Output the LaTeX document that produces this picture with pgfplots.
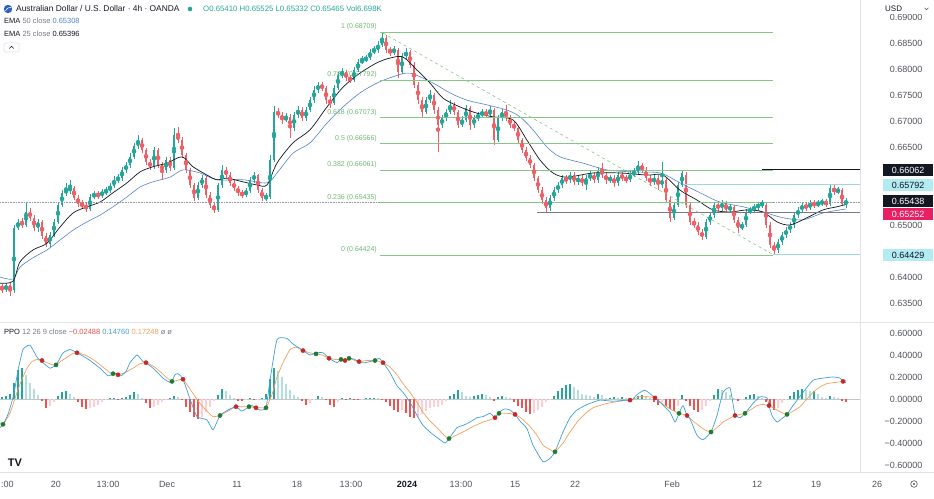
\documentclass[border=0pt]{standalone}
\usepackage{fontspec}
\setmainfont{Liberation Sans}
\usepackage{pgfplots}
\pgfplotsset{compat=1.18}
\usepackage{pgfplotstable}

\definecolor{tvup}{HTML}{26A69A}
\definecolor{tvdn}{HTML}{EC6068}
\definecolor{ema50}{HTML}{5283C8}
\definecolor{fib}{HTML}{86C788}
\definecolor{fibtxt}{HTML}{6DB86F}
\definecolor{ppo}{HTML}{3E9FD9}
\definecolor{sig}{HTML}{F2A05C}
\definecolor{hdt}{HTML}{26A69A}
\definecolor{hlt}{HTML}{B2DFDB}
\definecolor{hdr}{HTML}{EF5350}
\definecolor{hlr}{HTML}{FFCDD2}
\definecolor{dotg}{HTML}{1E7B2C}
\definecolor{dotr}{HTML}{C62828}
\definecolor{tvtext}{HTML}{50535E}
\definecolor{tvdark}{HTML}{131722}
\definecolor{tvsub}{HTML}{787B86}
\definecolor{tvsep}{HTML}{E0E3EB}
\definecolor{tvcyan}{HTML}{B2EBF2}
\definecolor{tvcyanl}{HTML}{9ED6E2}
\definecolor{tvmag}{HTML}{E91E63}
\definecolor{tvgrey}{HTML}{9598A1}
\definecolor{tvglobe}{HTML}{2E5FC2}

\newcommand{\tvf}{\fontsize{9}{10}\selectfont}
\newcommand{\tvs}{\fontsize{7.5}{9}\selectfont}

% AUD/USD 4h candles, x = position along the time scale
\pgfplotstableread{
x o h l c
2 0.6383 0.6387 0.6369 0.6375
6 0.6375 0.6388 0.6371 0.6385
10 0.6385 0.6388 0.6364 0.6373
14 0.6375 0.6500 0.6369 0.6494
18 0.6494 0.6512 0.6490 0.6506
22 0.6506 0.6514 0.6494 0.6500
26 0.6500 0.6542 0.6496 0.6525
30 0.6525 0.6533 0.6508 0.6514
34 0.6514 0.6519 0.6489 0.6494
38 0.6494 0.6512 0.6487 0.6506
42 0.6506 0.6510 0.6473 0.6479
46 0.6479 0.6485 0.6458 0.6464
50 0.6464 0.6487 0.6458 0.6481
54 0.6481 0.6512 0.6477 0.6506
58 0.6506 0.6544 0.6502 0.6538
62 0.6538 0.6567 0.6535 0.6562
66 0.6562 0.6581 0.6556 0.6567
70 0.6567 0.6587 0.6560 0.6571
74 0.6571 0.6575 0.6548 0.6552
78 0.6552 0.6558 0.6535 0.6540
82 0.6540 0.6548 0.6531 0.6538
86 0.6538 0.6544 0.6525 0.6531
90 0.6531 0.6560 0.6527 0.6554
94 0.6554 0.6565 0.6550 0.6560
98 0.6560 0.6565 0.6550 0.6556
102 0.6556 0.6569 0.6552 0.6564
106 0.6564 0.6573 0.6558 0.6565
110 0.6565 0.6581 0.6562 0.6575
114 0.6575 0.6594 0.6571 0.6587
118 0.6587 0.6598 0.6581 0.6590
122 0.6590 0.6612 0.6585 0.6606
126 0.6606 0.6621 0.6600 0.6615
130 0.6615 0.6638 0.6610 0.6631
134 0.6631 0.6658 0.6627 0.6652
138 0.6652 0.6673 0.6646 0.6663
142 0.6663 0.6667 0.6638 0.6644
146 0.6644 0.6648 0.6615 0.6621
150 0.6621 0.6627 0.6606 0.6612
154 0.6612 0.6650 0.6608 0.6644
158 0.6644 0.6648 0.6610 0.6615
162 0.6615 0.6621 0.6587 0.6606
166 0.6606 0.6631 0.6600 0.6625
170 0.6625 0.6631 0.6604 0.6610
174 0.6610 0.6687 0.6606 0.6673
178 0.6673 0.6688 0.6658 0.6663
182 0.6663 0.6669 0.6629 0.6635
186 0.6635 0.6638 0.6600 0.6606
190 0.6606 0.6610 0.6571 0.6577
194 0.6577 0.6581 0.6546 0.6552
198 0.6552 0.6583 0.6548 0.6577
202 0.6577 0.6596 0.6571 0.6590
206 0.6590 0.6594 0.6552 0.6558
210 0.6558 0.6564 0.6533 0.6538
214 0.6538 0.6542 0.6523 0.6529
218 0.6529 0.6581 0.6525 0.6577
222 0.6577 0.6615 0.6571 0.6606
226 0.6606 0.6612 0.6590 0.6596
230 0.6596 0.6602 0.6575 0.6581
234 0.6581 0.6587 0.6565 0.6571
238 0.6571 0.6575 0.6556 0.6562
242 0.6562 0.6567 0.6552 0.6558
246 0.6558 0.6571 0.6554 0.6565
250 0.6565 0.6592 0.6562 0.6587
254 0.6587 0.6602 0.6581 0.6596
258 0.6596 0.6598 0.6562 0.6567
262 0.6567 0.6571 0.6546 0.6552
266 0.6552 0.6562 0.6546 0.6554
270 0.6554 0.6635 0.6550 0.6625
274 0.6625 0.6729 0.6621 0.6717
278 0.6717 0.6725 0.6706 0.6712
282 0.6712 0.6717 0.6694 0.6702
286 0.6702 0.6715 0.6698 0.6708
290 0.6708 0.6713 0.6667 0.6687
294 0.6687 0.6717 0.6681 0.6712
298 0.6712 0.6729 0.6706 0.6721
302 0.6721 0.6727 0.6700 0.6706
306 0.6706 0.6727 0.6700 0.6721
310 0.6721 0.6746 0.6717 0.6740
314 0.6740 0.6767 0.6735 0.6760
318 0.6760 0.6775 0.6754 0.6769
322 0.6769 0.6775 0.6758 0.6763
326 0.6763 0.6767 0.6733 0.6740
330 0.6740 0.6748 0.6725 0.6735
334 0.6735 0.6769 0.6731 0.6763
338 0.6763 0.6794 0.6760 0.6788
342 0.6788 0.6802 0.6783 0.6794
346 0.6794 0.6798 0.6777 0.6783
350 0.6783 0.6788 0.6773 0.6779
354 0.6779 0.6804 0.6775 0.6798
358 0.6798 0.6819 0.6794 0.6813
362 0.6813 0.6825 0.6810 0.6817
366 0.6817 0.6827 0.6813 0.6821
370 0.6821 0.6838 0.6817 0.6833
374 0.6833 0.6844 0.6829 0.6837
378 0.6837 0.6854 0.6831 0.6846
382 0.6846 0.6871 0.6842 0.6860
386 0.6860 0.6865 0.6831 0.6837
390 0.6837 0.6842 0.6825 0.6833
394 0.6833 0.6844 0.6827 0.6837
398 0.6837 0.6840 0.6783 0.6794
402 0.6794 0.6831 0.6790 0.6825
406 0.6825 0.6840 0.6817 0.6833
410 0.6833 0.6837 0.6802 0.6808
414 0.6808 0.6813 0.6763 0.6769
418 0.6769 0.6775 0.6733 0.6740
422 0.6740 0.6746 0.6706 0.6717
426 0.6717 0.6746 0.6713 0.6740
430 0.6740 0.6760 0.6735 0.6750
434 0.6750 0.6754 0.6713 0.6721
438 0.6721 0.6727 0.6640 0.6692
442 0.6692 0.6712 0.6687 0.6706
446 0.6706 0.6723 0.6700 0.6717
450 0.6717 0.6740 0.6713 0.6731
454 0.6731 0.6737 0.6712 0.6717
458 0.6717 0.6721 0.6687 0.6692
462 0.6692 0.6710 0.6688 0.6702
466 0.6702 0.6731 0.6698 0.6725
470 0.6725 0.6729 0.6683 0.6692
474 0.6692 0.6712 0.6687 0.6706
478 0.6706 0.6717 0.6700 0.6712
482 0.6712 0.6723 0.6706 0.6717
486 0.6717 0.6723 0.6706 0.6712
490 0.6712 0.6729 0.6708 0.6721
494 0.6721 0.6725 0.6654 0.6663
498 0.6663 0.6712 0.6660 0.6706
502 0.6706 0.6723 0.6700 0.6717
506 0.6717 0.6731 0.6700 0.6706
510 0.6706 0.6712 0.6687 0.6692
514 0.6692 0.6700 0.6681 0.6687
518 0.6687 0.6690 0.6658 0.6663
522 0.6663 0.6667 0.6638 0.6644
526 0.6644 0.6650 0.6623 0.6629
530 0.6629 0.6635 0.6610 0.6615
534 0.6615 0.6619 0.6585 0.6590
538 0.6590 0.6594 0.6562 0.6567
542 0.6567 0.6573 0.6540 0.6548
546 0.6548 0.6554 0.6525 0.6533
550 0.6533 0.6558 0.6527 0.6552
554 0.6552 0.6573 0.6546 0.6567
558 0.6567 0.6583 0.6562 0.6577
562 0.6577 0.6596 0.6571 0.6590
566 0.6590 0.6596 0.6579 0.6587
570 0.6587 0.6602 0.6581 0.6596
574 0.6596 0.6602 0.6577 0.6583
578 0.6583 0.6596 0.6577 0.6590
582 0.6590 0.6596 0.6575 0.6581
586 0.6581 0.6596 0.6567 0.6590
590 0.6590 0.6604 0.6585 0.6596
594 0.6596 0.6602 0.6581 0.6587
598 0.6587 0.6612 0.6581 0.6606
602 0.6606 0.6619 0.6590 0.6596
606 0.6596 0.6602 0.6579 0.6587
610 0.6587 0.6596 0.6581 0.6590
614 0.6590 0.6596 0.6573 0.6581
618 0.6581 0.6602 0.6575 0.6596
622 0.6596 0.6602 0.6585 0.6590
626 0.6590 0.6596 0.6581 0.6587
630 0.6587 0.6604 0.6583 0.6596
634 0.6596 0.6610 0.6592 0.6602
638 0.6602 0.6623 0.6596 0.6615
642 0.6615 0.6619 0.6600 0.6606
646 0.6606 0.6612 0.6585 0.6590
650 0.6590 0.6596 0.6575 0.6583
654 0.6583 0.6596 0.6577 0.6590
658 0.6590 0.6596 0.6567 0.6577
662 0.6577 0.6621 0.6571 0.6587
666 0.6587 0.6590 0.6542 0.6548
670 0.6548 0.6554 0.6506 0.6514
674 0.6514 0.6544 0.6510 0.6538
678 0.6538 0.6583 0.6535 0.6577
682 0.6577 0.6604 0.6573 0.6600
686 0.6596 0.6602 0.6533 0.6538
690 0.6538 0.6542 0.6500 0.6506
694 0.6506 0.6514 0.6494 0.6500
698 0.6500 0.6506 0.6481 0.6487
702 0.6487 0.6492 0.6471 0.6477
706 0.6477 0.6512 0.6473 0.6506
710 0.6506 0.6525 0.6500 0.6519
714 0.6519 0.6544 0.6514 0.6538
718 0.6538 0.6544 0.6527 0.6533
722 0.6533 0.6548 0.6527 0.6542
726 0.6542 0.6546 0.6523 0.6529
730 0.6529 0.6540 0.6525 0.6535
734 0.6535 0.6538 0.6504 0.6510
738 0.6510 0.6515 0.6485 0.6494
742 0.6494 0.6506 0.6490 0.6500
746 0.6500 0.6531 0.6496 0.6525
750 0.6525 0.6535 0.6521 0.6529
754 0.6529 0.6540 0.6525 0.6535
758 0.6535 0.6544 0.6529 0.6538
762 0.6538 0.6548 0.6533 0.6542
766 0.6538 0.6542 0.6494 0.6500
770 0.6500 0.6506 0.6456 0.6462
774 0.6462 0.6467 0.6442 0.6452
778 0.6452 0.6473 0.6446 0.6467
782 0.6467 0.6487 0.6462 0.6481
786 0.6481 0.6496 0.6475 0.6490
790 0.6490 0.6506 0.6485 0.6500
794 0.6500 0.6525 0.6494 0.6519
798 0.6519 0.6535 0.6514 0.6529
802 0.6529 0.6544 0.6523 0.6538
806 0.6538 0.6544 0.6527 0.6533
810 0.6533 0.6548 0.6529 0.6542
814 0.6542 0.6548 0.6533 0.6538
818 0.6538 0.6548 0.6535 0.6542
822 0.6542 0.6550 0.6537 0.6544
826 0.6544 0.6550 0.6535 0.6540
830 0.6540 0.6579 0.6537 0.6571
834 0.6571 0.6577 0.6558 0.6564
838 0.6564 0.6573 0.6560 0.6567
842 0.6567 0.6571 0.6537 0.6540
846 0.65410 0.65525 0.65332 0.65465
}\candles

\pgfplotsset{
  tvpane/.style={anchor=north west, width=860pt, scale only axis,
    xmin=0, xmax=860, axis line style={draw=none}, tick style={draw=none},
    major tick length=0pt, xtick=\empty, yticklabel pos=right,
    scaled y ticks=false,
    yticklabel style={font=\tvf, text=tvtext, anchor=east, xshift=66pt}},
  cwick/.style={color=#1, only marks, mark=none, forget plot,
    error bars/y dir=both, error bars/y explicit, error bars/error mark=none,
    error bars/error bar style={draw=#1, line width=0.6pt}},
  cbody/.style={color=#1, only marks, mark=none, forget plot,
    error bars/y dir=both, error bars/y explicit, error bars/error mark=none,
    error bars/error bar style={draw=#1, line width=2.6pt}},
}

\begin{document}
\begin{tikzpicture}
\useasboundingbox (0pt,0pt) rectangle (934pt,498pt);

\begin{scope}[x=1pt,y=1pt]
\draw[tvsep, line width=0.8pt] (0,176) -- (934,176);
\draw[tvsep, line width=0.8pt] (0,26) -- (934,26);
\draw[tvsep, line width=0.8pt] (860,26) -- (860,498);
\end{scope}

% ---------------- price pane ----------------
\begin{axis}[tvpane, at={(0pt,486pt)}, height=310pt,
  ymin=0.631346, ymax=0.690962,
  ytick={0.635,0.64,0.65,0.665,0.67,0.675,0.68,0.685,0.69},
  yticklabels={0.63500,0.64000,0.65000,0.66500,0.67000,0.67500,0.68000,0.68500,0.69000}]

% candles: wicks then bodies, up and down separately
\addplot[restrict expr to domain={\thisrow{c}-\thisrow{o}}{0:1}, cwick=tvup]
  table[x=x, y expr={(\thisrow{h}+\thisrow{l})/2}, y error expr={(\thisrow{h}-\thisrow{l})/2}] {\candles};
\addplot[restrict expr to domain={\thisrow{c}-\thisrow{o}}{-1:-0.00001}, cwick=tvdn]
  table[x=x, y expr={(\thisrow{h}+\thisrow{l})/2}, y error expr={(\thisrow{h}-\thisrow{l})/2}] {\candles};
\addplot[restrict expr to domain={\thisrow{c}-\thisrow{o}}{0:1}, cbody=tvup]
  table[x=x, y expr={(\thisrow{o}+\thisrow{c})/2}, y error expr={abs(\thisrow{c}-\thisrow{o})/2}] {\candles};
\addplot[restrict expr to domain={\thisrow{c}-\thisrow{o}}{-1:-0.00001}, cbody=tvdn]
  table[x=x, y expr={(\thisrow{o}+\thisrow{c})/2}, y error expr={abs(\thisrow{c}-\thisrow{o})/2}] {\candles};

% EMA 50
\addplot[ema50, line width=0.6pt, smooth, tension=0.5] coordinates {
(0,0.6400) (13,0.6396) (20,0.6419) (33,0.6437) (47,0.6452) (60,0.6471) (73,0.6490)
(87,0.6506) (100,0.6519) (113,0.6535) (127,0.6554) (140,0.6573) (153,0.6583)
(170,0.6592) (183,0.6606) (200,0.6600) (217,0.6587) (243,0.6587) (267,0.6581)
(277,0.6600) (293,0.6638) (310,0.6658) (327,0.6696) (343,0.6727) (360,0.6754)
(377,0.6773) (393,0.6785) (410,0.6792) (433,0.6773) (450,0.6754) (467,0.6740)
(487,0.6731) (507,0.6721) (520,0.6708) (533,0.6683) (547,0.6650) (560,0.6631)
(583,0.6619) (607,0.6606) (633,0.6602) (660,0.6600) (680,0.6581) (700,0.6562)
(720,0.6544) (743,0.6535) (763,0.6525) (783,0.6514) (803,0.6510) (823,0.6523)
(846,0.65308)};
% EMA 25
\addplot[tvdark, line width=0.7pt, smooth, tension=0.5] coordinates {
(0,0.6388) (13,0.6392) (20,0.6429) (33,0.6452) (47,0.6465) (60,0.6496) (73,0.6523)
(87,0.6535) (100,0.6544) (113,0.6562) (127,0.6581) (140,0.6602) (153,0.6612)
(167,0.6619) (182,0.6631) (193,0.6612) (207,0.6596) (217,0.6587) (227,0.6590)
(243,0.6583) (257,0.6577) (267,0.6577) (277,0.6619) (293,0.6658) (310,0.6683)
(327,0.6727) (343,0.6765) (360,0.6792) (377,0.6812) (390,0.6821) (403,0.6823)
(417,0.6798) (430,0.6773) (443,0.6744) (460,0.6727) (477,0.6715) (493,0.6708)
(513,0.6702) (527,0.6663) (540,0.6625) (553,0.6600) (567,0.6592) (593,0.6600)
(620,0.6600) (647,0.6596) (663,0.6596) (680,0.6567) (697,0.6548) (713,0.6529)
(730,0.6525) (747,0.6529) (763,0.6525) (777,0.6506) (790,0.6500) (807,0.6514)
(823,0.6529) (837,0.6535) (846,0.65396)};

% price lines
\addplot[tvgrey, densely dotted, line width=0.6pt] coordinates {(0,0.65438) (860,0.65438)};
\addplot[tvsub, line width=0.6pt] coordinates {(537,0.65252) (860,0.65252)};
\addplot[tvcyanl, line width=0.6pt] coordinates {(683,0.65792) (860,0.65792)};
\addplot[tvcyanl, line width=0.6pt] coordinates {(773,0.64429) (860,0.64429)};
\addplot[tvdark, line width=0.6pt] coordinates {(762,0.66062) (860,0.66062)};

% Fibonacci retracement
\addplot[fib, dashed, line width=0.6pt] coordinates {(383,0.6869) (773,0.6443)};
\foreach \lv/\lab in {0.68709/1 (0.68709), 0.67792/0.786 (0.67792), 0.67073/0.618 (0.67073),
  0.66566/0.5 (0.66566), 0.66061/0.382 (0.66061), 0.65435/0.236 (0.65435), 0.64424/0 (0.64424)} {
  \edef\temp{\noexpand\addplot[fib, line width=0.6pt] coordinates {(380,\lv) (773,\lv)};}
  \temp
  \edef\temp{\noexpand\node[anchor=east, font=\noexpand\fontsize{7}{8}\noexpand\selectfont,
    text=fibtxt, inner sep=0pt, yshift=5pt] at (axis cs:377,\lv) {\lab};}
  \temp
}
\end{axis}

% ---------------- PPO pane ----------------
\begin{axis}[tvpane, at={(0pt,175pt)}, height=149pt,
  ymin=-0.663636, ymax=0.690909,
  ytick={-0.6,-0.4,-0.2,0,0.2,0.4,0.6},
  yticklabels={−0.60000,−0.40000,−0.20000,0.00000,0.20000,0.40000,0.60000}]

\addplot[tvsep!70!gray, line width=0.5pt] coordinates {(0,0) (860,0)};

% histogram
\addplot[ycomb, hdt, line width=2pt, mark=none] coordinates {
(2,0.02) (6,0.03) (10,0.05) (14,0.15) (18,0.26) (22,0.28) (58,0.03) (62,0.06) (66,0.07)
(110,0.005) (114,0.01) (122,0.01) (126,0.02) (130,0.04) (134,0.06) (170,0.01) (174,0.03)
(218,0.04) (222,0.09) (250,0.005) (262,0.005) (266,0.05) (270,0.18) (274,0.28) (318,0.03)
(342,0.005) (350,0.005) (366,0.005) (370,0.005) (374,0.01) (450,0.03) (454,0.05) (458,0.08)
(474,0.03) (478,0.04) (482,0.05) (498,0.02) (502,0.03) (554,0.03) (558,0.07) (562,0.10)
(566,0.13) (570,0.14) (598,0.05) (610,0.01) (614,0.02) (622,0.02) (634,0.01) (638,0.03)
(642,0.04) (682,0.04) (714,0.04) (718,0.09) (746,0.02) (750,0.04) (754,0.05) (790,0.03)
(794,0.06) (798,0.08) (802,0.09) (814,0.07) (830,0.03)};
\addplot[ycomb, hlt, line width=2pt, mark=none] coordinates {
(26,0.22) (30,0.15) (34,0.09) (38,0.04) (70,0.05) (74,0.02) (138,0.05) (142,0.01) (178,0.02)
(226,0.07) (230,0.04) (234,0.01) (278,0.25) (282,0.20) (286,0.14) (290,0.08) (294,0.04)
(298,0.02) (322,0.02) (378,0.005) (462,0.06) (466,0.03) (470,0.02) (486,0.04) (490,0.02)
(506,0.02) (510,0.01) (574,0.11) (578,0.08) (582,0.05) (586,0.04) (590,0.03) (594,0.02)
(602,0.04) (606,0.01) (618,0.01) (626,0.01) (646,0.03) (650,0.01) (722,0.08) (726,0.06)
(730,0.04) (734,0.01) (758,0.03) (762,0.01) (806,0.08) (810,0.07) (818,0.05) (822,0.02)
(826,0.01) (834,0.02) (838,0.01)};
\addplot[ycomb, hdr, line width=2pt, mark=none] coordinates {
(42,-0.02) (46,-0.08) (78,-0.03) (82,-0.07) (86,-0.09) (118,-0.01) (146,-0.04) (150,-0.08)
(182,-0.01) (186,-0.07) (190,-0.12) (194,-0.16) (198,-0.18) (238,-0.02) (242,-0.02)
(254,-0.005) (302,-0.02) (306,-0.05) (326,-0.01) (330,-0.05) (334,-0.07) (346,-0.005)
(354,-0.005) (358,-0.01) (382,-0.01) (386,-0.03) (390,-0.06) (394,-0.10) (398,-0.12)
(406,-0.13) (410,-0.16) (414,-0.17) (494,-0.02) (514,-0.03) (518,-0.06) (522,-0.08)
(526,-0.12) (530,-0.14) (630,-0.01) (654,-0.03) (658,-0.05) (666,-0.06) (670,-0.09)
(674,-0.11) (686,-0.02) (690,-0.06) (694,-0.10) (698,-0.12) (738,-0.02) (766,-0.03)
(770,-0.07) (774,-0.10) (842,-0.02) (846,-0.025)};
\addplot[ycomb, hlr, line width=2pt, mark=none] coordinates {
(50,-0.06) (54,-0.03) (90,-0.08) (94,-0.07) (98,-0.05) (102,-0.03) (106,-0.01) (154,-0.07)
(158,-0.05) (162,-0.03) (166,-0.01) (202,-0.16) (206,-0.12) (210,-0.07) (214,-0.02)
(246,-0.01) (258,-0.005) (310,-0.04) (314,-0.01) (338,-0.03) (362,-0.005) (402,-0.10)
(418,-0.16) (422,-0.14) (426,-0.11) (430,-0.08) (434,-0.07) (438,-0.07) (442,-0.05)
(446,-0.02) (534,-0.13) (538,-0.10) (542,-0.07) (546,-0.03) (550,-0.01) (662,-0.03)
(678,-0.06) (702,-0.10) (706,-0.06) (710,-0.02) (742,-0.01) (778,-0.08) (782,-0.04)
(786,-0.01)};

% signal line
\addplot[sig, line width=0.7pt, smooth, tension=0.3] coordinates {
(0,-0.22) (3,-0.23) (10,-0.13) (17,0.06) (22,0.18) (27,0.28) (32,0.34) (37,0.36) (42,0.35)
(47,0.33) (53,0.31) (56,0.31) (62,0.35) (67,0.38) (72,0.41) (77,0.42) (85,0.40) (93,0.36)
(103,0.29) (110,0.24) (113,0.23) (118,0.22) (125,0.24) (133,0.28) (140,0.32) (146,0.33)
(153,0.30) (160,0.25) (166,0.20) (172,0.16) (178,0.17) (183,0.18) (190,0.09) (200,-0.04)
(207,-0.11) (213,-0.16) (220,-0.15) (228,-0.11) (236,-0.07) (242,-0.07) (249,-0.07)
(256,-0.08) (262,-0.08) (266,-0.08) (272,0.04) (277,0.20) (283,0.33) (290,0.45) (296,0.47)
(303,0.44) (310,0.42) (316,0.41) (322,0.40) (329,0.37) (335,0.36) (341,0.36) (345,0.35)
(349,0.37) (355,0.35) (359,0.34) (367,0.35) (375,0.35) (383,0.33) (390,0.29) (397,0.22)
(403,0.14) (410,0.06) (417,-0.03) (423,-0.12) (430,-0.20) (437,-0.26) (443,-0.32)
(449,-0.36) (456,-0.33) (463,-0.30) (473,-0.25) (483,-0.21) (490,-0.19) (495,-0.17)
(499,-0.13) (507,-0.13) (515,-0.14) (522,-0.18) (530,-0.25) (537,-0.33) (543,-0.42)
(550,-0.46) (555,-0.48) (563,-0.40) (570,-0.30) (578,-0.20) (587,-0.12) (593,-0.08)
(607,-0.04) (620,-0.02) (630,-0.01) (640,0.02) (648,0.02) (655,0.01) (662,-0.04)
(670,-0.09) (679,-0.13) (687,-0.15) (693,-0.20) (700,-0.25) (705,-0.28) (711,-0.30)
(717,-0.26) (723,-0.21) (729,-0.18) (735,-0.15) (745,-0.13) (752,-0.09) (757,-0.06)
(763,-0.05) (769,-0.06) (775,-0.09) (781,-0.12) (787,-0.14) (793,-0.11) (800,-0.07)
(806,-0.01) (813,0.06) (820,0.11) (827,0.14) (835,0.15) (843,0.16) (846,0.1725)};
% PPO line
\addplot[ppo, line width=0.7pt, smooth, tension=0.3] coordinates {
(0,-0.26) (3,-0.23) (8,-0.14) (12,-0.02) (15,0.10) (18,0.26) (23,0.45) (30,0.49) (37,0.38)
(43,0.33) (50,0.28) (56,0.31) (60,0.37) (63,0.42) (70,0.45) (77,0.42) (83,0.39) (90,0.35)
(100,0.28) (108,0.21) (113,0.23) (116,0.235) (118,0.22) (121,0.21) (126,0.25) (130,0.33)
(137,0.40) (143,0.34) (146,0.33) (153,0.28) (163,0.19) (170,0.15) (172,0.16) (175,0.22)
(178,0.23) (183,0.18) (190,0.00) (197,-0.16) (207,-0.19) (213,-0.28) (220,-0.15)
(228,-0.10) (236,-0.07) (242,-0.11) (249,-0.07) (252,-0.06) (256,-0.08) (260,-0.10)
(266,-0.08) (270,0.17) (277,0.54) (287,0.55) (293,0.50) (300,0.46) (303,0.44) (310,0.40)
(316,0.42) (323,0.42) (329,0.37) (337,0.33) (341,0.36) (345,0.34) (349,0.37) (355,0.36)
(359,0.33) (365,0.33) (370,0.34) (375,0.35) (379,0.37) (383,0.33) (390,0.24) (397,0.12)
(403,0.06) (410,-0.03) (417,-0.15) (423,-0.24) (430,-0.30) (437,-0.35) (445,-0.40)
(449,-0.36) (457,-0.26) (463,-0.24) (470,-0.21) (477,-0.17) (483,-0.16) (490,-0.13)
(495,-0.17) (499,-0.12) (505,-0.09) (510,-0.10) (515,-0.14) (520,-0.20) (527,-0.27)
(533,-0.42) (543,-0.57) (550,-0.54) (555,-0.48) (563,-0.30) (570,-0.17) (577,-0.10)
(587,-0.05) (593,-0.03) (600,-0.01) (613,-0.02) (627,-0.01) (630,-0.015) (633,0.00)
(637,0.04) (645,0.08) (655,0.01) (660,-0.03) (670,-0.12) (675,-0.21) (679,-0.13)
(683,-0.06) (687,-0.15) (690,-0.18) (697,-0.33) (703,-0.37) (711,-0.30) (717,-0.15)
(723,0.06) (730,0.10) (735,-0.14) (740,-0.17) (745,-0.13) (753,-0.04) (760,0.02)
(767,0.01) (769,-0.06) (772,-0.15) (777,-0.21) (783,-0.17) (787,-0.14) (793,-0.06)
(803,0.06) (813,0.17) (823,0.19) (833,0.20) (840,0.19) (843,0.16) (846,0.148)};

% cross dots
\addplot[only marks, mark=*, mark size=2.1pt, color=dotg] coordinates {
(3,-0.23) (56,0.31) (113,0.23) (172,0.16) (220,-0.15) (249,-0.07) (266,-0.08) (316,0.41)
(341,0.36) (349,0.37) (375,0.35) (449,-0.36) (499,-0.13) (555,-0.48) (679,-0.13)
(711,-0.30) (745,-0.13) (787,-0.14)};
\addplot[only marks, mark=*, mark size=2.1pt, color=dotr] coordinates {
(42,0.35) (77,0.42) (118,0.22) (146,0.33) (183,0.18) (236,-0.07) (256,-0.08) (303,0.44)
(329,0.37) (345,0.35) (359,0.34) (383,0.33) (495,-0.17) (515,-0.14) (630,-0.01) (655,0.01)
(687,-0.15) (735,-0.15) (769,-0.06) (843,0.16)};
\end{axis}

% ---------------- overlays: legend, scales, time axis ----------------
\begin{scope}[x=1pt,y=1pt]
\fill[tvglobe] (8,489) circle (4.2);
\draw[white, line width=0.6pt] (5.5,487) .. controls (7,490) and (9,491) .. (11,490.5);
\node[anchor=west, font=\fontsize{8.4}{10}\selectfont, text=tvdark, inner sep=0pt]
  at (16,489) {Australian Dollar / U.S. Dollar · 4h · OANDA};
\fill[tvup] (190,489) circle (2.3);
\node[anchor=west, font=\fontsize{7.8}{9}\selectfont, text=tvup, inner sep=0pt]
  at (203,489) {O0.65410 H0.65525 L0.65332 C0.65465 Vol6.698K};
\node[anchor=west, font=\tvs, inner sep=0pt] at (4,477)
  {\textcolor{tvdark}{EMA} \textcolor{tvsub}{50 close} \textcolor{ema50}{0.65308}};
\node[anchor=west, font=\tvs, inner sep=0pt] at (4,464)
  {\textcolor{tvdark}{EMA} \textcolor{tvsub}{25 close} \textcolor{tvdark}{0.65396}};
\draw[tvsep, line width=0.7pt, rounded corners=1.5pt] (4,446) rectangle (19,455);
\draw[tvdark, line width=0.6pt] (9.3,449.5) -- (11.5,451.7) -- (13.7,449.5);

\node[anchor=west, font=\tvs, inner sep=0pt] at (4,166)
  {\textcolor{tvdark}{PPO} \textcolor{tvsub}{12 26 9 close} \textcolor{hdr}{−0.02488}
   \textcolor{ppo}{0.14760} \textcolor{sig}{0.17248} \textcolor{tvsub}{ø ø}};

% price scale labels
\fill[white] (862,484) rectangle (934,498);
\node[anchor=west, font=\fontsize{8}{9}\selectfont, text=tvdark, inner sep=0pt] at (885,489) {USD};
\draw[tvtext, line width=0.5pt] (924.5,490.2) -- (926.5,488.2) -- (928.5,490.2);
\foreach \yy/\val/\bg/\fg in {328/0.66062/tvdark/white, 313/0.65792/tvcyan/tvdark,
  297/0.65438/tvdark/white, 284/0.65252/tvmag/white, 243/0.64429/tvcyan/tvdark} {
  \node[fill=\bg, text=\fg, font=\tvf, minimum width=50pt, minimum height=11.5pt,
    inner sep=0pt, anchor=west] at (883,\yy) {\val};
}

% time scale
\node[font=\tvf, text=tvtext, anchor=west, inner sep=0pt] at (1,14) {:00};
\foreach \xx/\t in {56/20, 108/13:00, 167/Dec, 237/11, 297/18, 351/13:00,
  461/13:00, 515/15, 575/22, 672/Feb, 757/12, 816/19, 877/26} {
  \node[font=\tvf, text=tvtext] at (\xx,14) {\t};
}
\node[font=\tvf\bfseries, text=tvdark] at (407,14) {2024};
\draw[tvtext, line width=0.6pt] (914,14) circle (3.3);
\fill[tvtext] (914,14) circle (1.1);
\node[font=\bfseries\fontsize{11}{12}\selectfont, text=tvdark] at (15,35) {TV};
\end{scope}
\end{tikzpicture}
\end{document}
